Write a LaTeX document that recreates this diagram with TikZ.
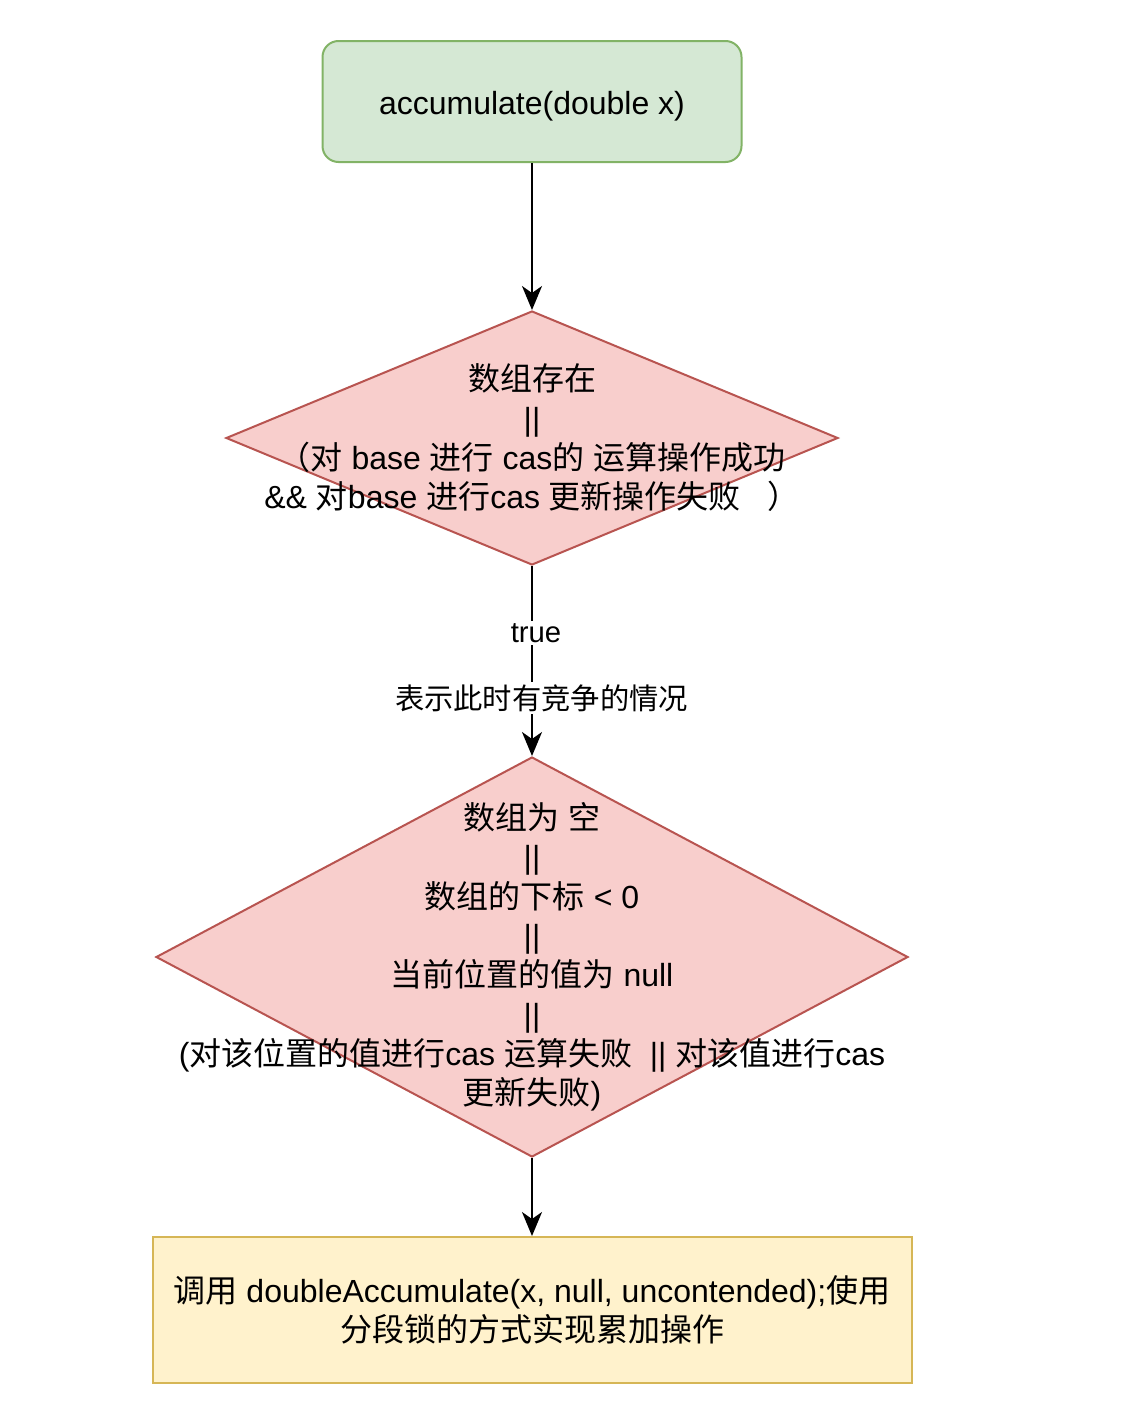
\documentclass[tikz,border=0pt]{standalone}
\usepackage{fontspec}
\setmainfont{Liberation Sans}
\newfontfamily\cjk{Noto Sans CJK SC}
\newcommand\zh[1]{{\cjk #1}}
\usetikzlibrary{shapes.geometric,arrows.meta}
\definecolor{gfill}{HTML}{D5E8D4}
\definecolor{gline}{HTML}{82B366}
\definecolor{rfill}{HTML}{F8CECC}
\definecolor{rline}{HTML}{B85450}
\definecolor{yfill}{HTML}{FFF2CC}
\definecolor{yline}{HTML}{D6B656}
\begin{document}
\begin{tikzpicture}[x=1pt,y=-1pt,
  every node/.style={font=\fontsize{32}{39.3}\selectfont, align=center},
  startbox/.style={draw=gline, fill=gfill, line width=2pt, rounded corners=16pt, minimum width=419pt, minimum height=121pt, inner sep=0pt, text height=33pt, text depth=7pt},
  decision/.style={diamond, draw=rline, fill=rfill, line width=2pt, inner sep=0pt},
  actionbox/.style={draw=yline, fill=yfill, line width=2pt, minimum width=759pt, minimum height=146pt, inner sep=0pt},
  flow/.style={line width=2pt, -{Stealth[length=24pt,width=20pt,inset=7pt]}},
  edgelabel/.style={fill=white, inner sep=2pt, font=\fontsize{29.3}{35}\selectfont}]
\useasboundingbox[fill=white] (0,0) rectangle (1124,1408);

\node[startbox] (start) at (532,101.5) {accumulate(double x)};

\node[decision, minimum width=612pt, minimum height=254pt] (d1) at (532,438) {};
\node (d1t) at (d1.center) {\zh{数组存在}\\||\\\zh{（对} base \zh{进行} cas\zh{的} \zh{运算操作成功}\\\&\& \zh{对}base \zh{进行}cas \zh{更新操作失败}\ \ \ \zh{）}};

\node[decision, minimum width=752pt, minimum height=400pt] (d2) at (532,957) {};
\node (d2t) at (d2.center) {\zh{数组为} \zh{空}\\||\\\zh{数组的下标} < 0\\||\\\zh{当前位置的值为} null\\||\\(\zh{对该位置的值进行}cas \zh{运算失败}\ \ || \zh{对该值进行}cas\\\zh{更新失败})};

\node[actionbox] (act) at (532,1310) {\zh{调用} doubleAccumulate(x, null, uncontended);\zh{使用}\\\zh{分段锁的方式实现累加操作}};

\draw[flow] (start.south) -- (d1.north);
\draw[flow] (d1.south) -- (d2.north);
\draw[flow] (d2.south) -- (act.north);

\node[edgelabel] (l1) at (536,633) {true};
\node[edgelabel] (l2) at (541.5,698) {\zh{表示此时有竞争的情况}};
\end{tikzpicture}
\end{document}
